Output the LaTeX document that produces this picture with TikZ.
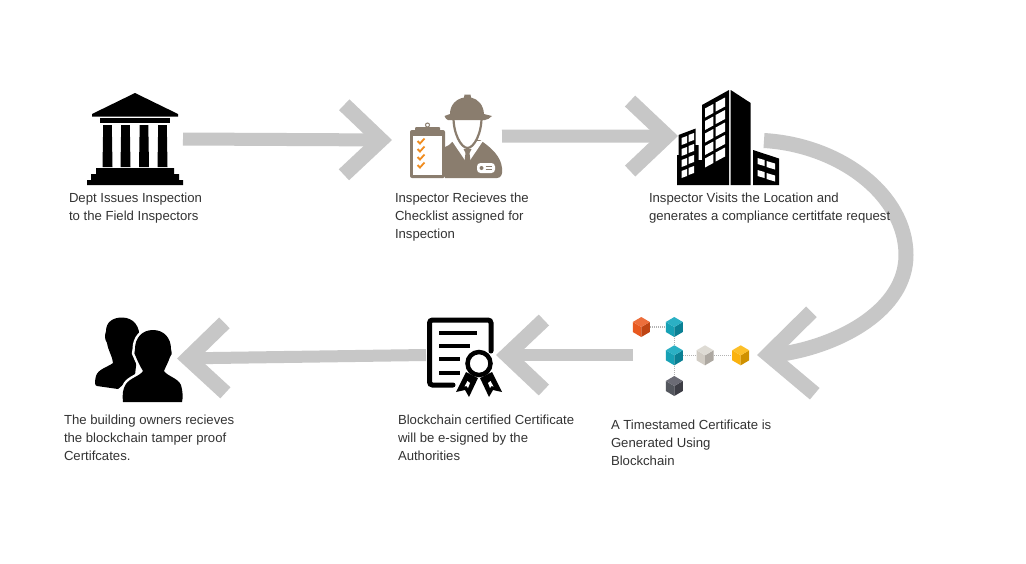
\documentclass[tikz,border=0pt]{standalone}
\usepackage{fontspec}
\setmainfont{Liberation Sans}
\usepackage{tikz}
\usetikzlibrary{arrows.meta,positioning,calc}
\definecolor{flowgray}{rgb}{0.78,0.78,0.78}
\definecolor{labeltext}{rgb}{0.20,0.20,0.20}
\definecolor{taupe}{rgb}{0.54,0.49,0.43}
\definecolor{checkorange}{rgb}{0.94,0.55,0.12}
\definecolor{redtop}{rgb}{0.93,0.43,0.23}
\definecolor{redleft}{rgb}{0.91,0.35,0.12}
\definecolor{redright}{rgb}{0.75,0.27,0.08}
\definecolor{tealtop}{rgb}{0.17,0.69,0.77}
\definecolor{tealleft}{rgb}{0.09,0.63,0.71}
\definecolor{tealright}{rgb}{0.04,0.50,0.58}
\definecolor{sandtop}{rgb}{0.87,0.86,0.83}
\definecolor{sandleft}{rgb}{0.82,0.80,0.77}
\definecolor{sandright}{rgb}{0.68,0.66,0.63}
\definecolor{goldtop}{rgb}{0.99,0.75,0.16}
\definecolor{goldleft}{rgb}{0.98,0.70,0.06}
\definecolor{goldright}{rgb}{0.81,0.57,0.0}
\definecolor{slatetop}{rgb}{0.42,0.42,0.46}
\definecolor{slateleft}{rgb}{0.33,0.34,0.37}
\definecolor{slateright}{rgb}{0.24,0.24,0.27}
\tikzset{
  iconbox/.style ={rectangle, inner sep=0pt, outer sep=0pt, minimum height=92pt},
  lbl/.style     ={align=left, inner sep=0pt, outer sep=0pt, text=labeltext,
                   font=\fontsize{13.15}{18}\selectfont},
  flow/.style    ={-{Straight Barb[length=37pt,width=70pt,line width=15pt]},
                   line width=13pt, draw=flowgray},
  flowbig/.style ={-{Straight Barb[length=45pt,width=82pt,line width=15pt]},
                   line width=15pt, draw=flowgray},
  cubenode/.style={circle, inner sep=0pt, outer sep=0pt, minimum size=18pt},
  chainlink/.style={draw=black!30, line width=1.2pt, dash pattern=on 1pt off 1pt},
}
% one block of the chain: name, top, left and right face
\newcommand{\hexcube}[4]{%
  \begin{scope}[shift={(#1)}]
    \fill[#3] (0,0) -- (-8.5,-5) -- (-8.5,5) -- (0,10) -- cycle;
    \fill[#4] (0,0) -- (8.5,-5) -- (8.5,5) -- (0,10) -- cycle;
    \fill[#2] (0,0) -- (-8.5,-5) -- (0,-10) -- (8.5,-5) -- cycle;
  \end{scope}}

\begin{document}
\begin{tikzpicture}[x=1pt,y=-1pt]
  \useasboundingbox[fill=white] (0,0) rectangle (1026,563);

  \node[iconbox, minimum width=96pt]                        (dept)      at (135,139) {};
  \node[iconbox, minimum width=110pt, right=209pt of dept, yshift=-1pt]     (inspector) {};
  \node[iconbox, minimum width=86pt, right=176pt of inspector, yshift=4pt]  (building)  {};
  \node[iconbox, minimum width=124pt]                       (chain)     at (695,355) {};
  \node[iconbox, minimum width=70pt, left=137pt of chain]   (cert)      {};
  \node[iconbox, minimum width=82pt, left=249pt of cert, yshift=-3.5pt]     (owners)    {};

  \draw[flow] (dept.east) -- (inspector.west);
  \draw[flow] (inspector.4) -- (building.west);
  \draw[flowbig] (building.-6) .. controls (840,145) and (906,195) .. (906,255)
      .. controls (906,310) and (840,345) .. (782,354) -- (chain.east);
  \draw[flow, line width=12.5pt] (chain.west) -- (cert.east);
  \draw[flow, line width=12pt] (cert.west) -- (owners.east);

  \node[lbl, below right=8pt and -18pt of dept.south west]      (deptlbl)  {Dept Issues Inspection\\to the Field Inspectors};
  \node[lbl, below right=7pt and 3pt of inspector.south west]   (insplbl)  {Inspector Recieves the\\Checklist assigned for\\Inspection};
  \node[lbl, below right=11pt and -29pt of building.south west] (buildlbl) {Inspector Visits the Location and\\generates a compliance certitfate request};
  \node[lbl, below right=19pt and -22pt of chain.south west]    (chainlbl) {A Timestamed Certificate is\\Generated Using\\Blockchain};
  \node[lbl, below right=14pt and -28pt of cert.south west]     (certlbl)  {Blockchain certified Certificate\\will be e-signed by the\\Authorities};
  \node[lbl, below right=10pt and -31pt of owners.south west]   (ownerlbl) {The building owners recieves\\the blockchain tamper proof\\Certifcates.};

  % dept
  \fill (135,93) -- (178,114) -- (178,116.5) -- (92,116.5) -- (92,114) -- cycle;
  \fill (100,118) rectangle (170,123);
  \foreach \cx in {107.5,125.5,144,162.5}
    \fill (\cx-4.3,125) -- (\cx+4.3,125) -- (\cx+5,167) -- (\cx-5,167) -- cycle;
  \fill (96,168) -- (174,168) -- (174,174) -- (179,174) -- (179,180) -- (183,180) -- (183,185)
     -- (87,185) -- (87,180) -- (91,180) -- (91,174) -- (96,174) -- cycle;

  % inspector
  \fill[taupe, rounded corners=2pt] (410,130) rectangle (445,178);
  \fill[white] (413,136) rectangle (442,175);
  \fill[taupe, rounded corners=1pt] (415,127) rectangle (440,134);
  \draw[taupe, line width=1pt] (427.5,125) circle (2);
  \foreach \ry in {141,149,157,165}
    \draw[checkorange, line width=1.8pt] (417.5,\ry) -- (420,\ry+2.5) -- (424.5,\ry-2.5);
  \fill[taupe] (452,142) .. controls (450,145) and (447,146) .. (445,147) -- (445,178) -- (497,178)
     .. controls (501,178) and (503,174) .. (502,168) .. controls (501,157) and (492,148) .. (480,140) -- cycle;
  \fill[white] (452,141) -- (465.5,161) -- (469.5,161) -- (483,141) -- cycle;
  \fill[taupe] (463.5,149) -- (471.5,149) -- (469.5,153) -- (470.5,161) -- (467.5,163) -- (464.5,161) -- (465.5,153) -- cycle;
  \draw[taupe, fill=white, line width=2.2pt] (453.5,116) .. controls (453,133) and (461,148) .. (467.5,148)
     .. controls (474,148) and (482,133) .. (481.5,116) -- cycle;
  \fill[taupe] (450,114) .. controls (450,105) and (456,99) .. (464,97.5) -- (464.5,94.5) -- (470.5,94.5) -- (471,97.5)
     .. controls (478,99) and (483.5,105) .. (484,114) -- (492,116) .. controls (490,118) and (487,120) .. (485,120)
     -- (448,120) .. controls (447,120) and (445,118) .. (444.5,116) -- cycle;
  \fill[white, rounded corners=3.5pt] (477,163) rectangle (495,173);
  \fill[taupe] (481.5,168) circle (2);
  \draw[taupe, line width=0.6pt] (485.5,166.5) -- (492,166.5) (485.5,169.5) -- (492,169.5);

  % building
  \fill (730.7,90) -- (750.7,103) -- (750.7,185) -- (730.7,185) -- cycle;
  \fill (702,105) -- (729,90) -- (729,185) -- (677,185) -- (677,155) -- (678.5,155) -- (678.5,135) -- (695.7,128.5)
     -- (695.7,145) -- (698.5,145) -- (698.5,160) -- (702,160) -- cycle;
  \fill (753,150) -- (779,158.5) -- (779,185) -- (753,185) -- cycle;
  \foreach \r in {0,...,4} {
    \fill[white] (705,108.5+12.5*\r) -- (713.3,104+12.5*\r) -- (713.3,113+12.5*\r) -- (705,117.5+12.5*\r) -- cycle;
    \fill[white] (715.7,102.5+12.5*\r) -- (725,97.5+12.5*\r) -- (725,106.5+12.5*\r) -- (715.7,111.5+12.5*\r) -- cycle;
  }
  \foreach \r in {0,...,3} {
    \fill[white] (681.5,138+11*\r) -- (687,136+11*\r) -- (687,143+11*\r) -- (681.5,145+11*\r) -- cycle;
    \fill[white] (688.5,135+11*\r) -- (694,133+11*\r) -- (694,140+11*\r) -- (688.5,142+11*\r) -- cycle;
  }
  \foreach \r in {0,1} {
    \fill[white] (757.5,158+12*\r) -- (764.5,160+12*\r) -- (764.5,166+12*\r) -- (757.5,164+12*\r) -- cycle;
    \fill[white] (766.5,161+12*\r) -- (775,163.5+12*\r) -- (775,169.5+12*\r) -- (766.5,167+12*\r) -- cycle;
  }

  % chain
  \node[cubenode] (cubeA) at (641.3,327)   {};
  \node[cubenode] (cubeB) at (674.3,327)   {};
  \node[cubenode] (cubeC) at (674.3,355.3) {};
  \node[cubenode] (cubeD) at (705,355.3)   {};
  \node[cubenode] (cubeE) at (740.7,355.3) {};
  \node[cubenode] (cubeF) at (674.3,386)   {};
  \draw[chainlink] (cubeA) -- (cubeB);
  \draw[chainlink] (cubeB) -- (cubeC);
  \draw[chainlink] (cubeC) -- (cubeD);
  \draw[chainlink] (cubeD) -- (cubeE);
  \draw[chainlink] (cubeC) -- (cubeF);
  \hexcube{cubeA}{redtop}{redleft}{redright}
  \hexcube{cubeB}{tealtop}{tealleft}{tealright}
  \hexcube{cubeC}{tealtop}{tealleft}{tealright}
  \hexcube{cubeD}{sandtop}{sandleft}{sandright}
  \hexcube{cubeE}{goldtop}{goldleft}{goldright}
  \hexcube{cubeF}{slatetop}{slateleft}{slateright}

  % certificate
  \draw[line width=5pt, line cap=round, rounded corners=3pt] (453,385) -- (429.5,385) -- (429.5,320) -- (491,320) -- (491,351);
  \draw[line width=4.5pt] (439,333) -- (477,333) (439,346) -- (470,346) (439,359) -- (460,359) (439,373) -- (460,373);
  \draw[line width=4.5pt] (479,363.5) circle (11.5);
  \fill (466,372) -- (456,392) -- (465,390) -- (469,397) -- (478,378) -- cycle;
  \fill (492,372) -- (502,392) -- (493,390) -- (489,397) -- (480,378) -- cycle;
  \fill[white] (467.5,381) -- (464.5,386.5) -- (466.5,386) -- (468,388) -- (470,383) -- cycle;
  \fill[white] (490.5,381) -- (493.5,386.5) -- (491.5,386) -- (490,388) -- (488,383) -- cycle;

  % owners
  \fill (122,317.5) .. controls (133,317.5) and (141,326) .. (139,340) -- (135,375) -- (118,389) -- (97,386)
     .. controls (94,386) and (95,380) .. (96,376) .. controls (98,369) and (108,367) .. (113,363)
     .. controls (113,358) and (108,350) .. (107,343) .. controls (104,338) and (105,335) .. (106,331)
     .. controls (106,322) and (113,317.5) .. (122,317.5) -- cycle;
  \fill[black, preaction={draw=white, line width=5pt}] (153,330) .. controls (164,330) and (171,338) .. (171,349)
     .. controls (172,353) and (172,356) .. (170,357) .. controls (168,363) and (165,368) .. (164,371)
     .. controls (167,376) and (178,378) .. (181,385) .. controls (183,392) and (183,398) .. (182,402) -- (123,402)
     .. controls (122,395) and (123,388) .. (126,384) .. controls (130,378) and (140,376) .. (143,371)
     .. controls (140,366) and (138,362) .. (136,357) .. controls (134,355) and (134,352) .. (135,349)
     .. controls (135,338) and (142,330) .. (153,330) -- cycle;
\end{tikzpicture}
\end{document}
